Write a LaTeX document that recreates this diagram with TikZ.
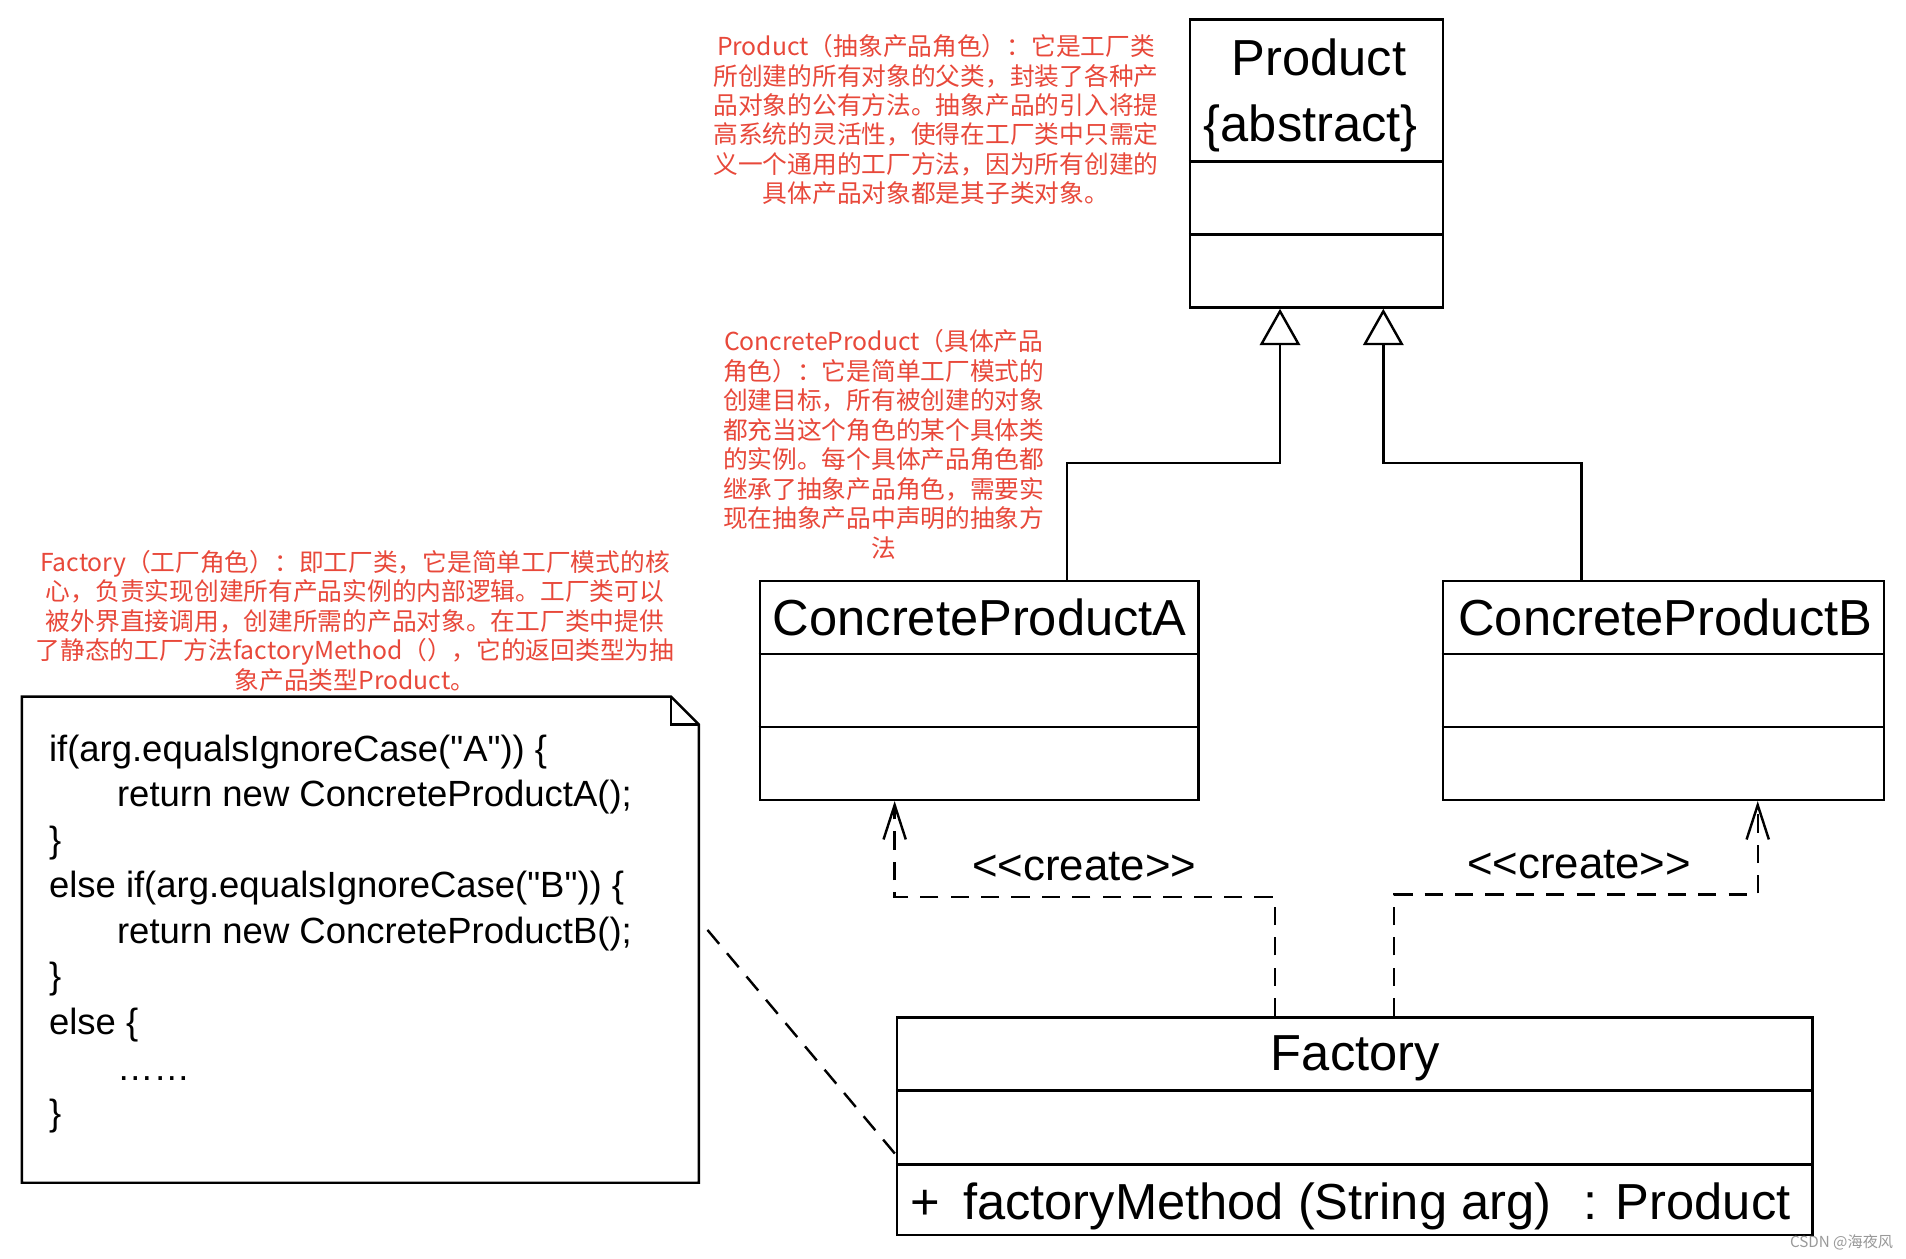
\documentclass[tikz,border=0pt]{standalone}
\usepackage{fontspec}
\setmainfont{Liberation Sans}
\newfontfamily\codefont{Liberation Sans}[Ligatures=TeXOff]
\newfontfamily\cjk{Noto Sans CJK SC}
\usetikzlibrary{arrows.meta,calc}
\definecolor{annot}{RGB}{232,72,58}
\begin{document}
\begin{tikzpicture}[x=0.6pt,y=-0.6pt,
  umlbox/.style={draw, line width=1.2pt, inner sep=0pt},
  titletext/.style={font=\fontsize{25}{30}\selectfont, inner sep=0pt, anchor=base},
  annottext/.style={text=annot, font=\cjk\fontsize{12.2}{14.55}\selectfont, align=center, inner sep=0pt},
  codetext/.style={font=\codefont\fontsize{18}{22.5}\selectfont, align=left, anchor=north west, inner sep=0pt},
  createtext/.style={font=\fontsize{21.6}{26}\selectfont, inner sep=0pt},
  divider/.style={line width=1.2pt},
  inh/.style={line width=1.2pt, -{Triangle[open, length=18pt, width=20pt, fill=white]}},
  dep/.style={line width=1.2pt, dash pattern=on 9pt off 6pt, -{Straight Barb[length=17pt, width=11pt]}},
  notelink/.style={line width=1.2pt, dash pattern=on 9pt off 6pt}
]
\useasboundingbox[fill=white] (0,0) rectangle (1568,1035);

% classes
\node[umlbox, minimum width=124.8pt, minimum height=142.2pt] (P) at (1083,134.5) {};
\node[umlbox, minimum width=216.6pt, minimum height=108pt] (A) at (805.5,568) {};
\node[umlbox, minimum width=217.8pt, minimum height=108pt] (B) at (1368.5,568) {};
\node[umlbox, minimum width=451.8pt, minimum height=107.4pt] (F) at (1114.5,926.5) {};

\draw[divider] (P.west |- 0,133) -- (P.east |- 0,133);
\draw[divider] (P.west |- 0,193) -- (P.east |- 0,193);
\draw[divider] (A.west |- 0,538) -- (A.east |- 0,538);
\draw[divider] (A.west |- 0,598) -- (A.east |- 0,598);
\draw[divider] (B.west |- 0,538) -- (B.east |- 0,538);
\draw[divider] (B.west |- 0,598) -- (B.east |- 0,598);
\draw[divider] (F.west |- 0,897) -- (F.east |- 0,897);
\draw[divider] (F.west |- 0,958) -- (F.east |- 0,958);

% titles
\node[titletext] (ptitle) at (1085,62) {Product};
\node[titletext, anchor=base west] (pabs) at (990,116) {\{abstract\}};
\node[titletext] (atitle) at (806,522.5) {ConcreteProductA};
\node[titletext] (btitle) at (1370,522.5) {ConcreteProductB};
\node[titletext] (ftitle) at (1115,881) {Factory};
\node[titletext, anchor=base west] (fplus) at (749,1003) {+};
\node[titletext, anchor=base west] (fmeth) at (792,1003) {factoryMethod (String arg)};
\node[titletext, anchor=base west] (fret) at (1302,1003) {: Product};

% inheritance
\coordinate (jA) at (1053,381);
\coordinate (jB) at (1138,381);
\coordinate (xA) at (878,0);
\coordinate (xB) at (1301,0);
\draw[inh] (A.north -| xA) |- (jA) -- (P.south -| jA);
\draw[inh] (B.north -| xB) |- (jB) -- (P.south -| jB);

% dependencies
\coordinate (dA) at (1049,738);
\coordinate (dAt) at (736,738);
\coordinate (dB) at (1147,736);
\coordinate (dBt) at (1446,736);
\draw[dep] (F.north -| dA) -- (dA) -- (dAt) -- (A.south -| dAt);
\draw[dep] (F.north -| dB) -- (dB) -- (dBt) -- (B.south -| dBt);
\node[createtext] (cA) at (892,713) {<{}<create>{}>};
\node[createtext] (cB) at (1299,711) {<{}<create>{}>};

% note
\draw[line width=1.2pt, fill=white] (18,573) -- (552,573) -- (575,596) -- (575,973) -- (18,973) -- cycle;
\draw[line width=1.2pt] (552,573) -- (552,596) -- (575,596);
\node[codetext] (code) at (40,604) {if(arg.equalsIgnoreCase("A")) \{\\
\hspace*{33.6pt}return new ConcreteProductA();\\
\}\\
else if(arg.equalsIgnoreCase("B")) \{\\
\hspace*{33.6pt}return new ConcreteProductB();\\
\}\\
else \{\\
\hspace*{33.6pt}……\\
\}};
\coordinate (nl) at (582,765);
\draw[notelink] (nl) -- (F.west |- 0,950);

% annotations
\node[annottext] (annP) at (770,98.5) {Product（抽象产品角色）：它是工厂类\\
所创建的所有对象的父类，封装了各种产\\
品对象的公有方法。抽象产品的引入将提\\
高系统的灵活性，使得在工厂类中只需定\\
义一个通用的工厂方法，因为所有创建的\\
具体产品对象都是其子类对象。};
\node[annottext] (annC) at (727,365.5) {ConcreteProduct（具体产品\\
角色）：它是简单工厂模式的\\
创建目标，所有被创建的对象\\
都充当这个角色的某个具体类\\
的实例。每个具体产品角色都\\
继承了抽象产品角色，需要实\\
现在抽象产品中声明的抽象方\\
法};
\node[annottext] (annF) at (292,510.5) {Factory（工厂角色）：即工厂类，它是简单工厂模式的核\\
心，负责实现创建所有产品实例的内部逻辑。工厂类可以\\
被外界直接调用，创建所需的产品对象。在工厂类中提供\\
了静态的工厂方法factoryMethod（），它的返回类型为抽\\
象产品类型Product。};

\node[font=\cjk\fontsize{7.5}{9}\selectfont, text=black!40, inner sep=0pt] (wm) at (1515,1022) {CSDN @海夜风};
\end{tikzpicture}
\end{document}
